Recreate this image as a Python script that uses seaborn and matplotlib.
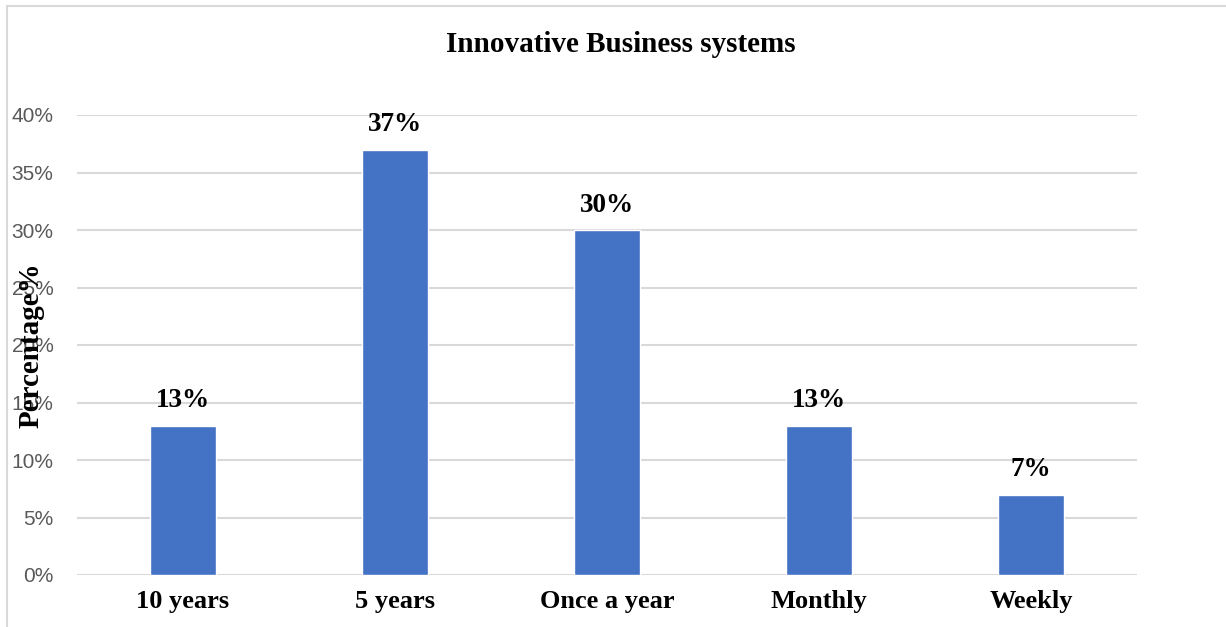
import matplotlib
matplotlib.use("Agg")
import matplotlib.pyplot as plt
import seaborn as sns
import pandas as pd
from matplotlib.patches import Rectangle
from matplotlib.ticker import PercentFormatter

# data
categories = ["10 years", "5 years", "Once a year", "Monthly", "Weekly"]
percentages = [13, 37, 30, 13, 7]
y_ticks = [0, 5, 10, 15, 20, 25, 30, 35, 40]

df = pd.DataFrame({"category": categories, "pct": percentages})

sns.set_theme(style="white")
serif = ["Liberation Serif", "DejaVu Serif"]
sans = ["Liberation Sans", "DejaVu Sans"]

fig = plt.figure(figsize=(12.26, 6.27), dpi=100)
ax = fig.add_axes([77 / 1226, 1 - 575 / 627, 1060 / 1226, 460 / 627])

sns.barplot(data=df, x="category", y="pct", color="#4472C4",
            width=0.307, saturation=1, ax=ax, zorder=3)

ax.set_ylim(0, 40)
ax.set_xlim(-0.5, len(categories) - 0.5)
ax.set_yticks(y_ticks)
ax.yaxis.set_major_formatter(PercentFormatter(decimals=0))
ax.grid(axis="y", color="#D9D9D9", linewidth=1.5, zorder=0)
ax.set_axisbelow(True)
for s in ax.spines.values():
    s.set_visible(False)
ax.tick_params(axis="both", length=0)
ax.tick_params(axis="y", pad=17)
ax.tick_params(axis="x", pad=11)

for lab in ax.get_yticklabels():
    lab.set_family(sans)
    lab.set_fontsize(15)
    lab.set_color("#595959")
for lab in ax.get_xticklabels():
    lab.set_family(serif)
    lab.set_fontsize(19)
    lab.set_fontweight("bold")
    lab.set_color("black")

ax.set_xlabel("")
ax.set_ylabel("")

for i, v in enumerate(percentages):
    ax.annotate(f"{v}%", (i, v), xytext=(0, 9), textcoords="offset points",
                ha="center", va="bottom", family=serif, fontsize=19.5,
                fontweight="bold", color="black")

fig.text(621 / 1226, 1 - 44 / 627, "Innovative Business systems",
         ha="center", va="center", family=serif, fontsize=21,
         fontweight="bold", color="black")
fig.text(31 / 1226, 1 - 345 / 627, "Percentage%", rotation=90,
         ha="center", va="center", family=serif, fontsize=21,
         fontweight="bold", color="black")

# chart frame (only top and left edges visible in the image)
fig.patches.append(Rectangle((6.5 / 1226, -0.1), 1.2, 1 - 5.5 / 627 + 0.1,
                             transform=fig.transFigure, fill=False,
                             edgecolor="#D9D9D9", linewidth=1.5))

fig.savefig("out.png", dpi=100)
